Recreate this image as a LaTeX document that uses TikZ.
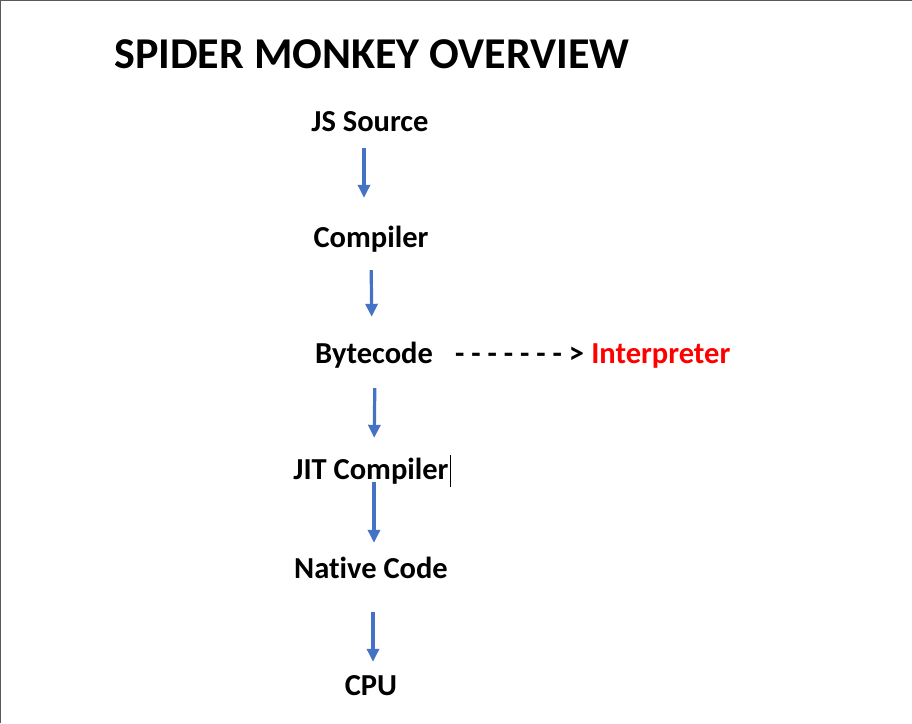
\documentclass[tikz,border=0pt]{standalone}
\usepackage{fontspec}
\setmainfont[Ligatures=NoCommon]{Carlito}
\usetikzlibrary{arrows.meta}
\definecolor{arrblue}{RGB}{68,114,196}
\definecolor{wordred}{RGB}{255,0,0}
\begin{document}
\begin{tikzpicture}[x=1pt,y=-1pt,
  lbl/.style={font=\bfseries\fontsize{30.5}{34}\selectfont, inner sep=0pt, anchor=base, text height=21pt, text depth=6pt},
  arr/.style={draw=arrblue, line width=3.2pt, -{Triangle[length=13pt,width=12pt]}}]
\useasboundingbox (0,0) rectangle (912,723);
\fill[white] (0,0) rectangle (912,723);
\draw[gray!70!black, line width=1.2pt] (0.6,723) -- (0.6,0.6) -- (912,0.6);
\node[font=\bfseries\fontsize{44}{48}\selectfont, inner sep=0pt, anchor=base west] (title) at (114,68) {SPIDER MONKEY OVERVIEW};
\node[lbl] (js) at (370,131) {JS Source};
\node[lbl] (comp) at (371,247) {Compiler};
\node[lbl] (byte) at (374,363) {Bytecode};
\node[lbl, anchor=base west] (dash) at (455,363) {- - - - - - - >};
\node[lbl, anchor=base west, text=wordred] (interp) at (dash.base east) {~Interpreter};
\node[lbl] (jit) at (371,479) {JIT Compiler};
\node[lbl] (native) at (371,578) {Native Code};
\node[lbl] (cpu) at (371,695) {CPU};
\draw[black, line width=0.8pt] (450,455) -- (450,487);
\draw[arr, shorten <=11pt, shorten >=28pt] ([xshift=-6pt]js.south) -- ([xshift=-7pt]comp.north);
\draw[arr, shorten <=17pt, shorten >=25pt] (comp.south) -- ([xshift=-2pt]byte.north);
\draw[arr, shorten <=19pt, shorten >=20pt] ([xshift=1pt]byte.south) -- ([xshift=3pt]jit.north);
\draw[arr, shorten <=-3pt, shorten >=14pt] ([xshift=3pt]jit.south) -- ([xshift=3pt]native.north);
\draw[arr, shorten <=28pt, shorten >=12pt] ([xshift=2pt]native.south) -- ([xshift=2pt]cpu.north);
\end{tikzpicture}
\end{document}
